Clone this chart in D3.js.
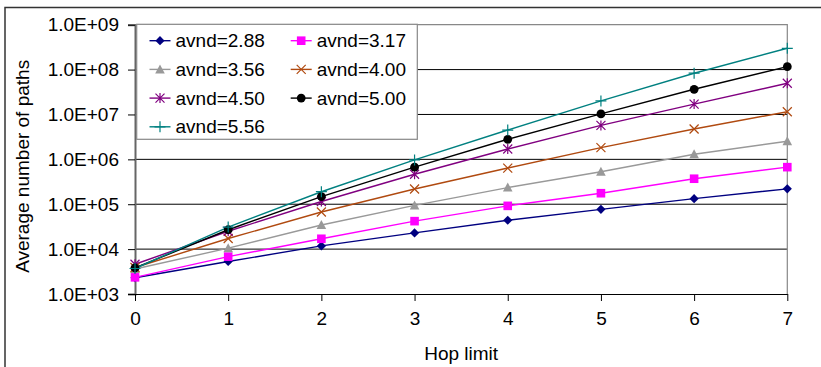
<!DOCTYPE html>
<html>
<head>
<meta charset="utf-8">
<script src="https://cdn.jsdelivr.net/npm/d3@7"></script>
<style>
  body { margin: 0; background: #fff; }
  text { font-family: "Liberation Sans", Arial, sans-serif; }
</style>
</head>
<body>
<div id="chart"></div>
<script>
const hops = [0, 1, 2, 3, 4, 5, 6, 7];
const yTicks = [1e3, 1e4, 1e5, 1e6, 1e7, 1e8, 1e9];

const avnd288 = [2.3e3, 5.3e3, 1.18e4, 2.3e4, 4.4e4, 7.7e4, 1.33e5, 2.2e5];
const avnd317 = [2.35e3, 6.8e3, 1.7e4, 4.2e4, 9.2e4, 1.76e5, 3.7e5, 6.7e5];
const avnd356 = [3.6e3, 1.05e4, 3.45e4, 9.4e4, 2.35e5, 5.3e5, 1.3e6, 2.53e6];
const avnd400 = [3.9e3, 1.72e4, 6.7e4, 2.18e5, 6.4e5, 1.82e6, 4.75e6, 1.15e7];
const avnd450 = [4.6e3, 2.5e4, 1.15e5, 4.65e5, 1.7e6, 5.7e6, 1.7e7, 4.95e7];
const avnd500 = [3.8e3, 2.7e4, 1.48e5, 6.7e5, 2.8e6, 1.03e7, 3.64e7, 1.16e8];
const avnd556 = [3.7e3, 3.1e4, 1.9e5, 9.7e5, 4.5e6, 2.0e7, 8.3e7, 2.98e8];

const series = [
  { name: "avnd=2.88", values: avnd288, color: "#000080", marker: "diamond" },
  { name: "avnd=3.17", values: avnd317, color: "#ff00ff", marker: "square" },
  { name: "avnd=3.56", values: avnd356, color: "#999999", marker: "triangle" },
  { name: "avnd=4.00", values: avnd400, color: "#b04a10", marker: "times" },
  { name: "avnd=4.50", values: avnd450, color: "#800080", marker: "asterisk" },
  { name: "avnd=5.00", values: avnd500, color: "#000000", marker: "circle" },
  { name: "avnd=5.56", values: avnd556, color: "#008080", marker: "plus" }
];

const W = 821, H = 367;
const plot = { left: 135, top: 24.7, right: 787.3, bottom: 294 };

const svg = d3.select("#chart").append("svg")
  .attr("width", W)
  .attr("height", H);

// outer chart frame (only top/left visible)
svg.append("rect")
  .attr("x", 5).attr("y", 7.5)
  .attr("width", W + 20).attr("height", H + 20)
  .attr("fill", "#fff")
  .attr("stroke", "#333")
  .attr("stroke-width", 1.5);

const x = d3.scaleLinear().domain([0, 7]).range([plot.left, plot.right]);
const y = d3.scaleLog().domain([1e3, 1e9]).range([plot.bottom, plot.top]);

// grid lines
svg.append("g")
  .selectAll("line")
  .data(yTicks.slice(1, -1))
  .enter().append("line")
  .attr("x1", plot.left).attr("x2", plot.right)
  .attr("y1", d => y(d)).attr("y2", d => y(d))
  .attr("stroke", "#000")
  .attr("stroke-width", 1);

// plot border (top, right grey)
svg.append("path")
  .attr("d", `M${plot.left},${plot.top}H${plot.right}V${plot.bottom}`)
  .attr("fill", "none")
  .attr("stroke", "#888")
  .attr("stroke-width", 1.2);

const fmt = d => "1.0E+" + String(Math.round(Math.log10(d))).padStart(2, "0");

const yAxis = svg.append("g")
  .attr("transform", `translate(${plot.left},0)`)
  .call(d3.axisLeft(y).tickValues(yTicks).tickFormat(fmt).tickSize(7).tickPadding(9));
yAxis.select(".domain").attr("stroke", "#666").attr("stroke-width", 2);
yAxis.selectAll(".tick line").attr("stroke", "#000");
yAxis.selectAll("text").style("font-size", "19px").attr("fill", "#000");

const xAxis = svg.append("g")
  .attr("transform", `translate(0,${plot.bottom})`)
  .call(d3.axisBottom(x).tickValues(hops).tickFormat(d3.format("d")).tickSize(7).tickSizeOuter(0).tickPadding(11));
xAxis.select(".domain").attr("stroke", "#000").attr("stroke-width", 1.2);
xAxis.selectAll(".tick line").attr("stroke", "#000");
xAxis.selectAll("text").style("font-size", "19px").attr("fill", "#000");

// axis titles
svg.append("text")
  .attr("x", (plot.left + plot.right) / 2)
  .attr("y", 360)
  .attr("text-anchor", "middle")
  .style("font-size", "19px")
  .text("Hop limit");

svg.append("text")
  .attr("transform", `translate(29,${(plot.top + plot.bottom) / 2 + 7}) rotate(-90)`)
  .attr("text-anchor", "middle")
  .style("font-size", "19px")
  .text("Average number of paths");

function drawMarker(g, type, color) {
  if (type === "diamond") {
    g.append("path").attr("d", "M0,-4.6L4.6,0L0,4.6L-4.6,0Z").attr("fill", color);
  } else if (type === "square") {
    g.append("rect").attr("x", -4.3).attr("y", -4.3).attr("width", 8.6).attr("height", 8.6).attr("fill", color);
  } else if (type === "triangle") {
    g.append("path").attr("d", "M0,-5L4.8,4L-4.8,4Z").attr("fill", color);
  } else if (type === "circle") {
    g.append("circle").attr("r", 4.4).attr("fill", color);
  } else if (type === "times") {
    g.append("path").attr("d", "M-4.5,-4.5L4.5,4.5M-4.5,4.5L4.5,-4.5")
      .attr("stroke", color).attr("stroke-width", 1.2);
  } else if (type === "asterisk") {
    g.append("path").attr("d", "M-4.5,-4.5L4.5,4.5M-4.5,4.5L4.5,-4.5M0,-5V5")
      .attr("stroke", color).attr("stroke-width", 1.2);
  } else if (type === "plus") {
    g.append("path").attr("d", "M-5.5,0H5.5M0,-5.5V5.5")
      .attr("stroke", color).attr("stroke-width", 1.2);
  }
}

const line = d3.line()
  .x((d, i) => x(hops[i]))
  .y(d => y(d));

series.forEach(s => {
  svg.append("path")
    .datum(s.values)
    .attr("d", line)
    .attr("fill", "none")
    .attr("stroke", s.color)
    .attr("stroke-width", 1.4);
});

series.forEach(s => {
  s.values.forEach((v, i) => {
    const g = svg.append("g").attr("transform", `translate(${x(hops[i])},${y(v)})`);
    drawMarker(g, s.marker, s.color);
  });
});

// legend
const legend = svg.append("g");
legend.append("rect")
  .attr("x", 136.7).attr("y", 24.3)
  .attr("width", 280.6).attr("height", 115)
  .attr("fill", "#fff")
  .attr("stroke", "#888")
  .attr("stroke-width", 1.2);

series.forEach((s, i) => {
  const col = i % 2, row = Math.floor(i / 2);
  const lx = col === 0 ? 149.5 : 290.7;
  const ly = 40.7 + row * 28.7;
  const g = legend.append("g").attr("transform", `translate(${lx},${ly})`);
  g.append("line").attr("x1", 0).attr("x2", 21).attr("y1", 0).attr("y2", 0)
    .attr("stroke", s.color).attr("stroke-width", 1.4);
  drawMarker(g.append("g").attr("transform", "translate(10.5,0)"), s.marker, s.color);
  g.append("text")
    .attr("x", 26)
    .attr("y", 0)
    .attr("dy", "0.35em")
    .style("font-size", "19px")
    .text(s.name);
});
</script>
</body>
</html>
